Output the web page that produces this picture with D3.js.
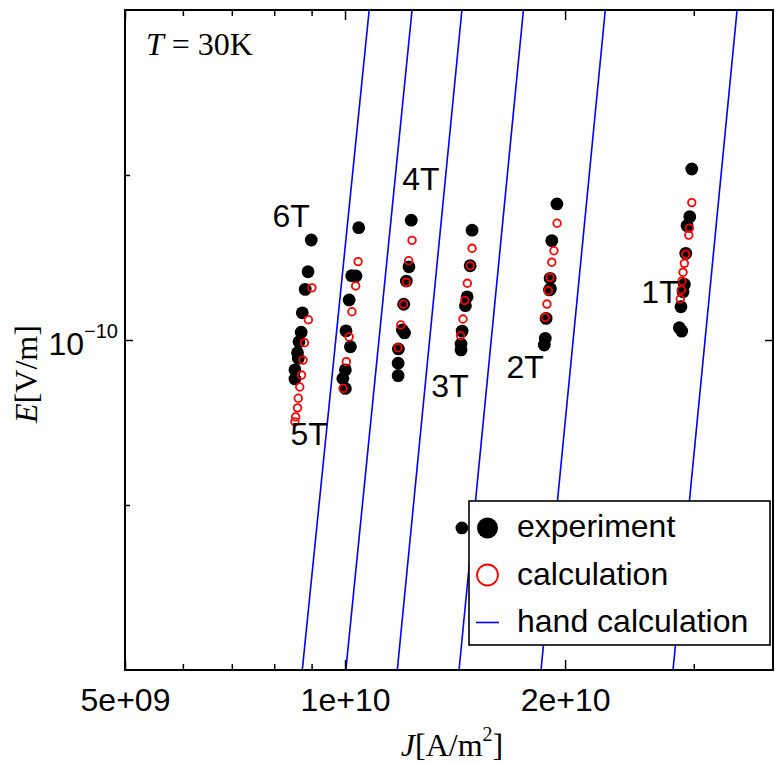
<!DOCTYPE html>
<html><head><meta charset="utf-8">
<script src="https://cdn.jsdelivr.net/npm/d3@7"></script>
<style>body{margin:0;background:#fff;} svg{display:block;}</style>
</head><body><svg id="chart" width="775" height="766"></svg>
<script>
// ---------------- data ----------------
const fieldLabels = ["6T","5T","4T","3T","2T","1T"];
const labelJ = [8.44e9, 8.93e9, 1.270e10, 1.392e10, 1.763e10, 2.697e10];
const labelE = [1.608e-10, 0.643e-10, 1.878e-10, 0.787e-10, 0.852e-10, 1.168e-10];

// hand calculation: straight lines in log-log, J at E = handE[0] and handE[1]
const handE = [2.5e-11, 4e-10];
const handJLow  = [8.74e9, 1.0025e10, 1.179e10, 1.432e10, 1.854e10, 2.810e10];
const handJHigh = [1.079e10, 1.235e10, 1.445e10, 1.754e10, 2.270e10, 3.438e10];

// experiment [J, E]
const exp6T = [[8.99e9,1.522e-10],[8.90e9,1.332e-10],[8.82e9,1.237e-10],[8.74e9,1.121e-10],[8.71e9,1.033e-10],
  [8.65e9,0.993e-10],[8.61e9,0.948e-10],[8.63e9,0.926e-10],[8.54e9,0.882e-10],[8.54e9,0.849e-10]];
const exp5T = [[1.044e10,1.603e-10],[1.021e10,1.310e-10],[1.035e10,1.309e-10],[1.013e10,1.183e-10],[1.003e10,1.039e-10],
  [1.017e10,0.972e-10],[1.001e10,0.882e-10],[0.993e10,0.851e-10],[1.001e10,0.816e-10]];
const exp4T = [[1.232e10,1.654e-10],[1.223e10,1.360e-10],[1.213e10,1.281e-10],[1.203e10,1.162e-10],[1.198e10,1.043e-10],
  [1.206e10,1.030e-10],[1.183e10,0.963e-10],[1.182e10,0.907e-10],[1.182e10,0.861e-10]];
const exp3T = [[1.492e10,1.586e-10],[1.483e10,1.366e-10],[1.469e10,1.199e-10],[1.461e10,1.155e-10],[1.446e10,1.038e-10],
  [1.441e10,0.983e-10],[1.441e10,0.959e-10],[1.445e10,0.454e-10]];
const exp2T = [[1.949e10,1.771e-10],[1.918e10,1.518e-10],[1.908e10,1.296e-10],[1.904e10,1.234e-10],[1.910e10,1.240e-10],
  [1.884e10,1.095e-10],[1.879e10,1.007e-10],[1.873e10,0.979e-10]];
const exp1T = [[2.981e10,2.051e-10],[2.962e10,1.679e-10],[2.937e10,1.617e-10],[2.925e10,1.439e-10],[2.912e10,1.264e-10],
  [2.900e10,1.225e-10],[2.881e10,1.150e-10],[2.866e10,1.053e-10],[2.888e10,1.038e-10]];

// calculation [J, E]
const calc6T = [[9.01e9,1.245e-10],[8.91e9,1.089e-10],[8.80e9,0.989e-10],[8.76e9,0.919e-10],[8.72e9,0.863e-10],
  [8.67e9,0.821e-10],[8.63e9,0.783e-10],[8.61e9,0.752e-10],[8.56e9,0.724e-10],[8.54e9,0.709e-10]];
const calc5T = [[1.042e10,1.390e-10],[1.034e10,1.255e-10],[1.022e10,1.126e-10],[1.013e10,1.013e-10],[1.004e10,0.913e-10],
  [0.994e10,0.816e-10]];
const calc4T = [[1.235e10,1.520e-10],[1.222e10,1.395e-10],[1.213e10,1.274e-10],[1.202e10,1.162e-10],[1.192e10,1.065e-10],
  [1.182e10,0.968e-10]];
const calc3T = [[1.492e10,1.470e-10],[1.483e10,1.366e-10],[1.470e10,1.269e-10],[1.458e10,1.181e-10],[1.450e10,1.092e-10],
  [1.439e10,1.018e-10]];
const calc2T = [[1.950e10,1.633e-10],[1.931e10,1.455e-10],[1.918e10,1.386e-10],[1.908e10,1.301e-10],[1.897e10,1.230e-10],
  [1.889e10,1.163e-10],[1.879e10,1.100e-10]];
const calc1T = [[2.981e10,1.781e-10],[2.958e10,1.599e-10],[2.953e10,1.554e-10],[2.925e10,1.434e-10],[2.912e10,1.380e-10],
  [2.900e10,1.329e-10],[2.891e10,1.281e-10],[2.884e10,1.234e-10],[2.875e10,1.188e-10]];

const xMajorTicks = [5e9, 1e10, 2e10];
const xMajorLabels = ["5e+09", "1e+10", "2e+10"];
const xMinorTicks = [6e9, 7e9, 8e9, 9e9, 3e10];
const yMajorTicks = [1e-10];
const yMinorTicks = [2e-10, 5e-11];

const legendLabels = ["experiment", "calculation", "hand calculation"];

// ---------------- chart ----------------
const pL = 125, pR = 773, pT = 10, pB = 670;
const svg = d3.select("#chart");
const x = d3.scaleLog().domain([5e9, 3.85e10]).range([pL, pR]);
const y = d3.scaleLog().domain([2.5e-11, 4e-10]).range([pB, pT]);

const sans = "'Liberation Sans', Arial, Helvetica, sans-serif";
const serif = "'Liberation Serif', 'Times New Roman', serif";

svg.append("defs").append("clipPath").attr("id","plotclip")
  .append("rect").attr("x", pL).attr("y", pT).attr("width", pR-pL).attr("height", pB-pT);

const plot = svg.append("g").attr("clip-path","url(#plotclip)");

// hand calculation lines
const lineGen = d3.line().x(d => x(d[0])).y(d => y(d[1]));
handJLow.forEach((jl, i) => {
  plot.append("path")
    .attr("d", lineGen([[jl, handE[0]], [handJHigh[i], handE[1]]]))
    .attr("fill","none").attr("stroke","#0000ff").attr("stroke-width",1.6);
});

const expAll = [exp6T, exp5T, exp4T, exp3T, exp2T, exp1T];
const calcAll = [calc6T, calc5T, calc4T, calc3T, calc2T, calc1T];

expAll.forEach(arr => {
  plot.selectAll(null).data(arr).enter().append("circle")
    .attr("cx", d => x(d[0])).attr("cy", d => y(d[1])).attr("r", 6.4).attr("fill","#000");
});
calcAll.forEach(arr => {
  plot.selectAll(null).data(arr).enter().append("circle")
    .attr("cx", d => x(d[0])).attr("cy", d => y(d[1])).attr("r", 3.8)
    .attr("fill","none").attr("stroke","#ff0000").attr("stroke-width",1.8);
});

// field labels
svg.selectAll(null).data(fieldLabels).enter().append("text")
  .attr("x", (d,i) => x(labelJ[i])).attr("y", (d,i) => y(labelE[i]))
  .attr("text-anchor","middle").attr("font-family", sans).attr("font-size", 32).attr("fill","#000")
  .text(d => d);

// axes
function styleAxis(g) {
  g.select(".domain").remove();
  g.selectAll(".tick line").attr("stroke","#000").attr("stroke-width",1.5);
  g.selectAll(".tick text").attr("font-family", sans).attr("font-size", 32).attr("fill","#000");
}
const xb = svg.append("g").attr("transform", `translate(0,${pB})`)
  .call(d3.axisBottom(x).tickValues(xMajorTicks).tickSizeInner(-10).tickSizeOuter(0)
    .tickPadding(16).tickFormat((d,i) => xMajorLabels[i]));
styleAxis(xb);
xb.selectAll(".tick text").attr("y", 41).attr("dy", null);
const xbm = svg.append("g").attr("transform", `translate(0,${pB})`)
  .call(d3.axisBottom(x).tickValues(xMinorTicks).tickSizeInner(-6).tickSizeOuter(0).tickFormat(""));
styleAxis(xbm);
const xt = svg.append("g").attr("transform", `translate(0,${pT})`)
  .call(d3.axisTop(x).tickValues(xMajorTicks).tickSizeInner(-10).tickSizeOuter(0).tickFormat(""));
styleAxis(xt);
const xtm = svg.append("g").attr("transform", `translate(0,${pT})`)
  .call(d3.axisTop(x).tickValues(xMinorTicks).tickSizeInner(-6).tickSizeOuter(0).tickFormat(""));
styleAxis(xtm);

const yl = svg.append("g").attr("transform", `translate(${pL},0)`)
  .call(d3.axisLeft(y).tickValues(yMajorTicks).tickSizeInner(-8).tickSizeOuter(0).tickFormat(""));
styleAxis(yl);
const ylm = svg.append("g").attr("transform", `translate(${pL},0)`)
  .call(d3.axisLeft(y).tickValues(yMinorTicks).tickSizeInner(-5).tickSizeOuter(0).tickFormat(""));
styleAxis(ylm);
const yr = svg.append("g").attr("transform", `translate(${pR},0)`)
  .call(d3.axisRight(y).tickValues(yMajorTicks).tickSizeInner(-8).tickSizeOuter(0).tickFormat(""));
styleAxis(yr);

// y tick label 10^-10
yMajorTicks.forEach(v => {
  const t = svg.append("text").attr("x", 118).attr("y", y(v) + 15)
    .attr("text-anchor","end").attr("font-family", sans).attr("font-size", 32).attr("fill","#000");
  t.append("tspan").text("10");
  t.append("tspan").attr("font-size", 20).attr("dy", -17).text("\u221210");
});

// frame
svg.append("rect").attr("x", pL).attr("y", pT).attr("width", pR-pL).attr("height", pB-pT)
  .attr("fill","none").attr("stroke","#000").attr("stroke-width",2);

// axis titles
const xl = svg.append("text").attr("x", 452).attr("y", 756).attr("text-anchor","middle")
  .attr("font-family", serif).attr("font-size", 32).attr("fill","#000");
xl.append("tspan").attr("font-style","italic").text("J");
xl.append("tspan").text("[A/m");
xl.append("tspan").attr("font-size", 20).attr("dy", -15).text("2");
xl.append("tspan").attr("dy", 15).text("]");

const ylab = svg.append("text").attr("transform", "translate(37,374) rotate(-90)").attr("text-anchor","middle")
  .attr("font-family", serif).attr("font-size", 32).attr("fill","#000");
ylab.append("tspan").attr("font-style","italic").text("E");
ylab.append("tspan").text("[V/m]");

const tl = svg.append("text").attr("x", 146).attr("y", 55)
  .attr("font-family", serif).attr("font-size", 32).attr("fill","#000");
tl.append("tspan").attr("font-style","italic").text("T");
tl.append("tspan").text(" = 30K");

// legend
const lg = svg.append("g");
lg.append("rect").attr("x", 469).attr("y", 501).attr("width", 301).attr("height", 144)
  .attr("fill","#fff").attr("stroke","#000").attr("stroke-width",1.6);
lg.append("circle").attr("cx", 487.5).attr("cy", 528).attr("r", 10.5).attr("fill","#000");
lg.append("circle").attr("cx", 487.5).attr("cy", 575).attr("r", 10.5).attr("fill","none")
  .attr("stroke","#ff0000").attr("stroke-width",1.8);
lg.append("line").attr("x1", 476).attr("x2", 499).attr("y1", 622.5).attr("y2", 622.5)
  .attr("stroke","#0000ff").attr("stroke-width",1.6);
lg.selectAll(null).data(legendLabels).enter().append("text")
  .attr("x", 517).attr("y", (d,i) => 537 + i*47.5)
  .attr("font-family", sans).attr("font-size", 32).attr("fill","#000").text(d => d);
</script>
</body></html>
